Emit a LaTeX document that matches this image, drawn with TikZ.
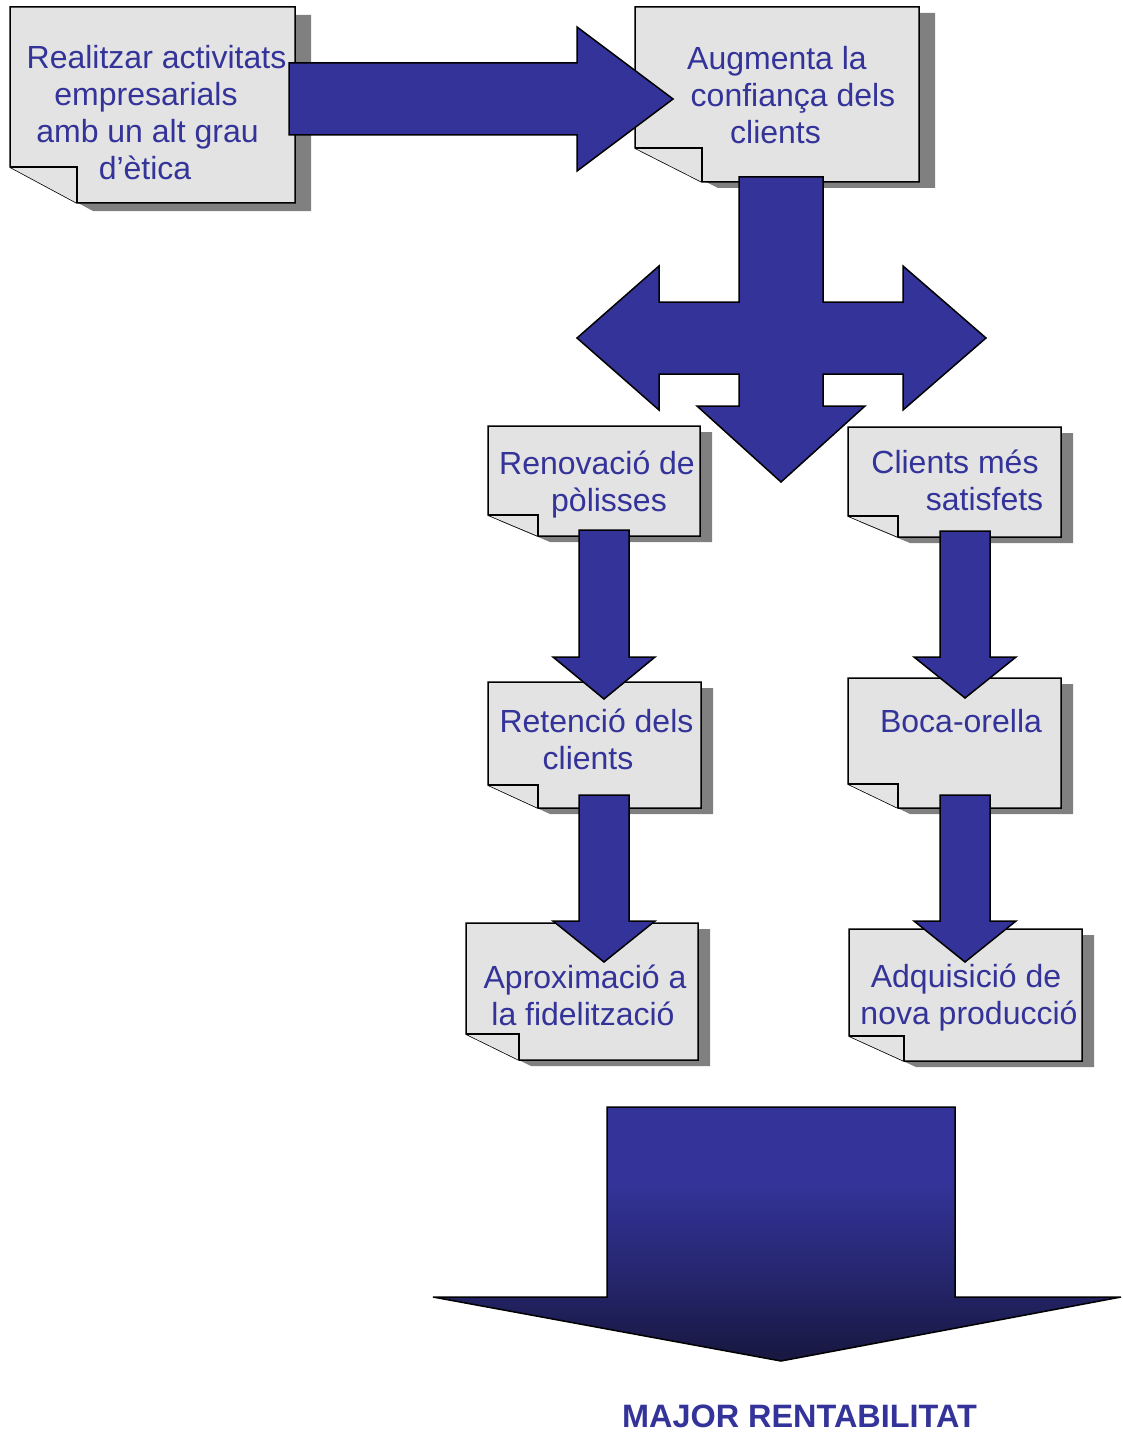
\documentclass[tikz,border=0pt]{standalone}
\usepackage{fontspec}
\setmainfont{Liberation Sans}

\definecolor{ink}{HTML}{333399}
\definecolor{midink}{HTML}{26266F}
\definecolor{deepink}{HTML}{17173F}
\definecolor{paper}{HTML}{E3E3E3}
\definecolor{shadowgray}{HTML}{808080}

% vertical fade of the large result arrow (bottom -> top)
\pgfdeclareverticalshading{gainshade}{100bp}{%
  color(0bp)=(deepink); color(25bp)=(deepink); color(42bp)=(midink);
  color(60bp)=(ink); color(75bp)=(ink); color(100bp)=(ink)}

% note sheet with a folded bottom-left corner and a drop shadow
% #1,#2 top-left  #3,#4 bottom-right  #5 fold x  #6 fold y  #7,#8 shadow offset
\newcommand\papernote[8]{%
  \fill[shadowgray,shift={(#7,#8)}] (#1,#2) -- (#3,#2) -- (#3,#4) -- (#5,#4) -- (#1,#6) -- cycle;
  \draw[noteline,fill=paper] (#1,#2) -- (#3,#2) -- (#3,#4) -- (#5,#4) -- (#1,#6) -- cycle;
  \draw[noteline,fill=paper] (#1,#6) -- (#5,#6) -- (#5,#4);
}

% thin downward block arrow: #1 centre x, #2 top, #3 head base, #4 tip
\newcommand\downblock[4]{%
  \draw[blockarrow] ({#1-25},#2) -- ({#1+25},#2) -- ({#1+25},#3) -- ({#1+51},#3)
    -- (#1,#4) -- ({#1-51},#3) -- ({#1-25},#3) -- cycle;
}

\begin{document}
\begin{tikzpicture}[x=1pt,y=-1pt,
  notetext/.style={font=\fontsize{32}{37}\selectfont, text=ink, inner sep=0pt, anchor=base},
  noteline/.style={draw=black, line width=1.5pt, line join=miter},
  blockarrow/.style={fill=ink, draw=black, line width=1.5pt, line join=miter}]
\useasboundingbox (0,0) rectangle (1122,1434);

% sheets
\papernote{10}{7}{295}{203}{77}{167}{16}{8}
\papernote{635}{7}{919}{182}{702}{148}{16}{6}
\papernote{488}{426}{700}{536}{538}{515}{12}{6}
\papernote{848}{427}{1061}{537}{898}{516}{12}{6}
\papernote{488}{682}{701}{808}{538}{785}{12}{6}
\papernote{848}{678}{1061}{808}{898}{784}{12}{6}
\papernote{466}{923}{698}{1060}{519}{1034}{12}{6}
\papernote{849}{929}{1082}{1061}{904}{1036}{12}{6}

% texts on the sheets
\node[notetext] (etica1) at (156.5,69) {Realitzar activitats};
\node[notetext] (etica2) at (146,106) {empresarials};
\node[notetext] (etica3) at (147.5,143) {amb un alt grau};
\node[notetext] (etica4) at (145,180) {d’ètica};

\node[notetext] (conf1) at (777,70) {Augmenta la};
\node[notetext] (conf2) at (793,107) {confiança dels};
\node[notetext] (conf3) at (775.5,144) {clients};

\node[notetext] (renov1) at (597,474) {Renovació de};
\node[notetext] (renov2) at (609,511) {pòlisses};

\node[notetext] (satis1) at (955,473) {Clients més};
\node[notetext] (satis2) at (984.5,510) {satisfets};

\node[notetext] (reten1) at (596.5,732) {Retenció dels};
\node[notetext] (reten2) at (588,769) {clients};

\node[notetext] (boca1) at (961,732) {Boca-orella};

\node[notetext] (fidel1) at (585,988) {Aproximació a};
\node[notetext] (fidel2) at (583,1025) {la fidelització};

\node[notetext] (adqui1) at (966,987) {Adquisició de};
\node[notetext] (adqui2) at (969,1024) {nova producció};

% block arrows
\draw[blockarrow] (289,63) -- (577,63) -- (577,27) -- (673,99) -- (577,171)
  -- (577,135) -- (289,135) -- cycle;

\draw[blockarrow] (739,177) -- (823,177) -- (823,302) -- (903,302) -- (903,266)
  -- (986,338) -- (903,410) -- (903,374) -- (823,374) -- (823,406) -- (865,406)
  -- (781,482) -- (697,406) -- (739,406) -- (739,374) -- (659,374) -- (659,410)
  -- (577,338) -- (659,266) -- (659,302) -- (739,302) -- cycle;

\downblock{604}{530}{657}{699}
\downblock{965}{531}{657}{698}
\downblock{604}{795}{921}{962}
\downblock{965}{795}{921}{962}

% result arrow
\shadedraw[shading=gainshade, draw=black, line width=1.5pt, line join=miter]
  (607,1107) -- (955,1107) -- (955,1297) -- (1121,1297) -- (781,1361)
  -- (433,1297) -- (607,1297) -- cycle;

\node[notetext, font=\fontsize{32.4}{37}\selectfont\bfseries] (result) at (799.5,1427.5) {MAJOR RENTABILITAT};
\end{tikzpicture}
\end{document}
